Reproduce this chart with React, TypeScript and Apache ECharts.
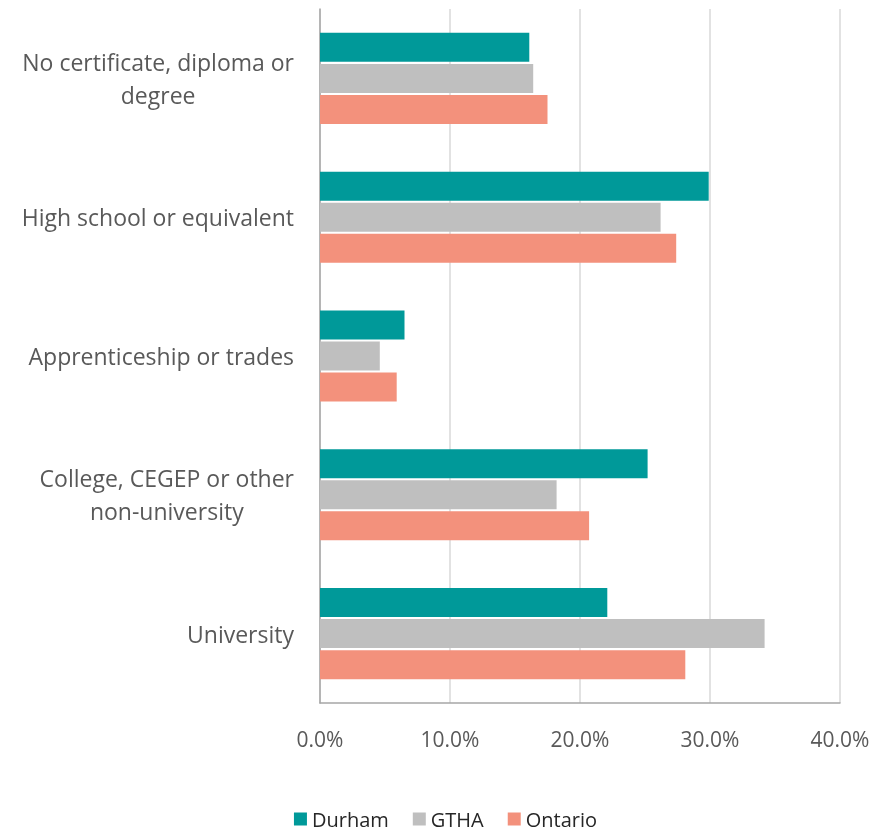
import React, { useEffect, useRef } from "react";
import * as echarts from "echarts";

const categories = [
  "No certificate, diploma or\ndegree",
  "High school or equivalent",
  "Apprenticeship or trades",
  "College, CEGEP or other\nnon-university",
  "University",
];
const durham = [16.1, 29.9, 6.5, 25.2, 22.1];
const gtha = [16.4, 26.2, 4.6, 18.2, 34.2];
const ontario = [17.5, 27.4, 5.9, 20.7, 28.1];
const seriesNames = ["Durham", "GTHA", "Ontario"];
const colors = ["#009999", "#BFBFBF", "#F3917C"];

export default function App() {
  const ref = useRef<HTMLDivElement>(null);
  useEffect(() => {
    if (!ref.current) return;
    const chart = echarts.init(ref.current, undefined, { renderer: "svg" });
    const font = "Open Sans";
    const data = [durham, gtha, ontario];
    chart.setOption({
      animation: false,
      textStyle: { fontFamily: font },
      grid: { left: 320, right: 51, top: 9, bottom: 128, containLabel: false },
      legend: {
        top: 804,
        left: "center",
        itemWidth: 13,
        itemHeight: 13,
        itemGap: 24,
        icon: "rect",
        textStyle: { fontFamily: font, fontSize: 20, color: "#262626" },
        data: seriesNames,
      },
      xAxis: {
        type: "value",
        min: 0,
        max: 40,
        interval: 10,
        axisLine: { show: true, lineStyle: { color: "#a6a6a6", width: 1.5 } },
        axisTick: { show: false },
        splitLine: { show: true, lineStyle: { color: "#d9d9d9", width: 1.5 } },
        axisLabel: {
          fontFamily: font,
          fontSize: 21,
          color: "#595959",
          margin: 25,
          formatter: (v: number) => v.toFixed(1) + "%",
        },
      },
      yAxis: {
        type: "category",
        inverse: true,
        data: categories,
        axisLine: { show: true, lineStyle: { color: "#a6a6a6", width: 1.5 } },
        axisTick: { show: false },
        axisLabel: {
          margin: 26,
          align: "right",
          formatter: (v: string) =>
            v
              .split("\n")
              .map((l) => `{c|${l}}`)
              .join("\n"),
          rich: {
            c: {
              align: "center",
              fontFamily: font,
              fontSize: 23,
              color: "#595959",
              lineHeight: 33,
            },
          },
        },
      },
      series: seriesNames.map((name, i) => ({
        name,
        type: "bar",
        data: data[i],
        barWidth: 29,
        barGap: "7%",
        itemStyle: { color: colors[i] },
      })),
    });
    return () => chart.dispose();
  }, []);
  return (
    <div
      ref={ref}
      style={{ position: "fixed", left: 0, top: 0, width: 891, height: 831 }}
    />
  );
}
